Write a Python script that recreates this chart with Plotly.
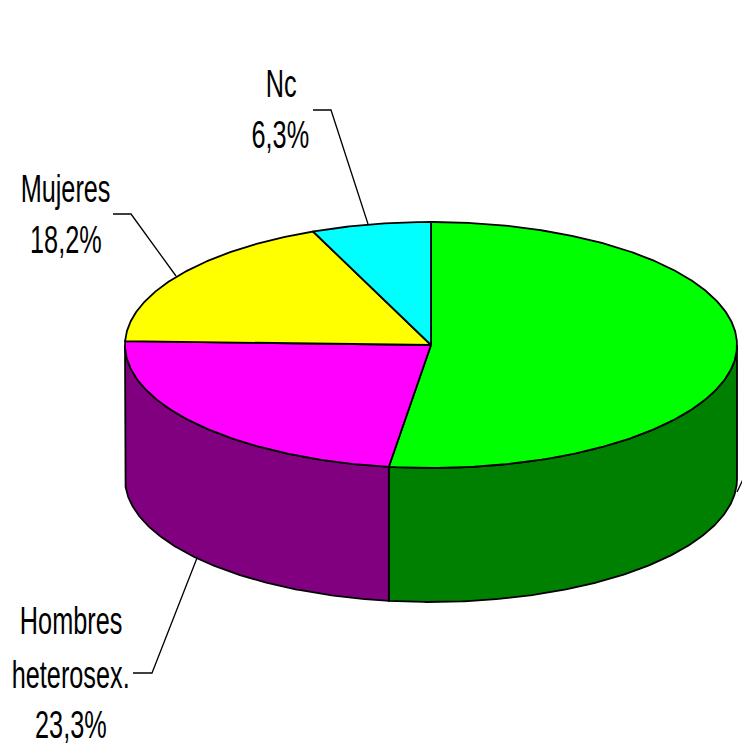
import numpy as np
import plotly.graph_objects as go

categories = ["Otros", "Hombres heterosex.", "Mujeres", "Nc"]
shares = [52.2, 23.3, 18.2, 6.3]
top_colors = ["#00ff00", "#ff00ff", "#ffff00", "#00ffff"]
wall_colors = ["#008000", "#800080", None, None]
FONT = "Liberation Sans, Arial"

CX, CY, RX, RY, DEPTH = 431, 345, 306, 123, 134
W, H = 742, 747


def rim(a0, a1, dy=0.0):
    t = np.radians(np.linspace(a0, a1, max(int(abs(a1 - a0) * 2), 2)))
    return CX + RX * np.sin(t), CY + dy - RY * np.cos(t)


fig = go.Figure()
edges = np.concatenate([[0], np.cumsum(shares) * 3.6])

# Walls: only the part of the rim facing the viewer (90..270 deg clockwise from top)
for i, color in enumerate(wall_colors):
    if color is None:
        continue
    a0, a1 = max(edges[i], 90), min(edges[i + 1], 270)
    x0, y0 = rim(a0, a1)
    x1, y1 = rim(a1, a0, DEPTH)
    fig.add_trace(go.Scatter(
        x=np.r_[x0, x1, x0[0]], y=np.r_[y0, y1, y0[0]], mode="lines", fill="toself",
        fillcolor=color, line=dict(color="black", width=1.8), hoverinfo="skip", name=categories[i]))

# Top face
for i, color in enumerate(top_colors):
    x0, y0 = rim(edges[i], edges[i + 1])
    fig.add_trace(go.Scatter(
        x=np.r_[CX, x0, CX], y=np.r_[CY, y0, CY], mode="lines", fill="toself",
        fillcolor=color, line=dict(color="black", width=1.8), name=categories[i],
        hovertemplate=f"{categories[i]}: {shares[i]}%<extra></extra>"))

# Leader lines
leaders = [
    [(313, 110), (331, 110), (368, 224)],
    [(113, 214), (131, 214), (176, 276)],
    [(133, 673), (152, 673), (197, 558)],
    [(737, 492), (750, 465)],
]
for pts in leaders:
    xs, ys = zip(*pts)
    fig.add_trace(go.Scatter(x=xs, y=ys, mode="lines", line=dict(color="black", width=1.3),
                             hoverinfo="skip"))

labels = [
    (281, 84, "Nc"), (280, 135, "6,3%"),
    (65, 189, "Mujeres"), (66, 240, "18,2%"),
    (71, 621, "Hombres"), (70, 675, "heterosex."), (71, 725, "23,3%"),
]
for x, y, t in labels:
    fig.add_annotation(x=x, y=y, text=t, showarrow=False, xanchor="center", yanchor="middle",
                       font=dict(family=FONT, size=38, color="black"))

fig.update_layout(
    width=W, height=H, margin=dict(l=0, r=0, t=0, b=0), showlegend=False,
    paper_bgcolor="white", plot_bgcolor="white",
    xaxis=dict(range=[0, W], visible=False, fixedrange=True),
    yaxis=dict(range=[H, 0], visible=False, fixedrange=True),
)

# Page without default margin; the reference's lettering is horizontally condensed
post = """
document.documentElement.style.margin = '0';
document.body.style.margin = '0';
document.body.style.overflow = 'hidden';
document.querySelectorAll('text.annotation-text').forEach(function (t) {
    var b = t.getBBox(), c = b.x + b.width / 2;
    t.setAttribute('transform', 'translate(' + c + ' 0) scale(0.665 1) translate(' + (-c) + ' 0)');
});
"""
fig.write_html("out.html", config=dict(displayModeBar=False), post_script=post)
